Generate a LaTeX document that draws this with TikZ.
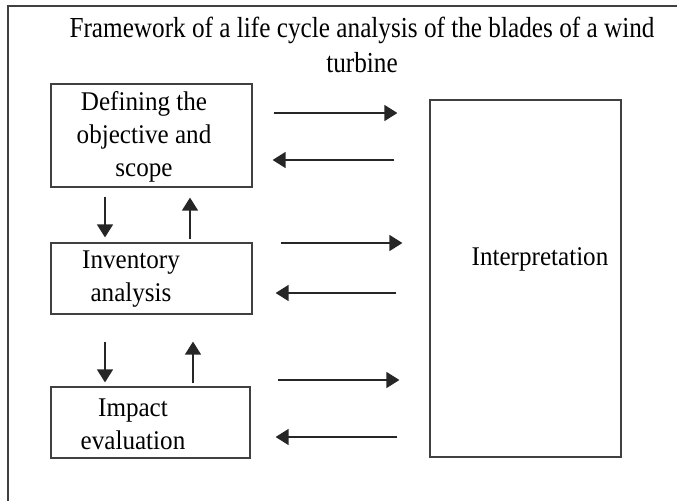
\documentclass[tikz,border=0pt]{standalone}
\usepackage{fontspec}
\setmainfont{Liberation Serif}[FakeStretch=0.93]
\newfontfamily\titlefont{Liberation Serif}[FakeStretch=0.87]
\usetikzlibrary{arrows.meta}

\tikzset{
	box/.style={draw=black!75, line width=1.2pt, inner sep=0pt},
	txt/.style={align=center, inner sep=0pt, font=\fontsize{27}{33}\selectfont},
	arr/.style={draw=black!85, line width=1.4pt, -{Triangle[length=13pt,width=16pt]}},
}

\begin{document}
\begin{tikzpicture}[x=1pt, y=-1pt]
			%%%%% START %%%%%
			\useasboundingbox (0,0) rectangle (677,501);
			
			\draw[black!75, line width=1.3pt] (677,6) -- (8,6) -- (8,501);
			
			\node[txt, font=\titlefont\fontsize{29}{35}\selectfont] (title) at (362,45) {Framework of a life cycle analysis of the blades of a wind\\turbine};
			
			\node[box, minimum width=201pt, minimum height=103pt] (b1) at (151.5,135.5) {};
			\node[box, minimum width=201pt, minimum height=71pt] (b2) at (151.5,278.5) {};
			\node[box, minimum width=199pt, minimum height=71pt] (b3) at (150.5,422.5) {};
			\node[box, minimum width=191pt, minimum height=357pt] (interp) at (525.5,278.5) {};
			
			\node[txt] (t1) at (144,137) {Defining the\\objective and\\scope};
			\node[txt] (t2) at (131,279) {Inventory\\analysis};
			\node[txt] (t3) at (133,424) {Impact\\evaluation};
			\node[txt] (t4) at (540,259) {Interpretation};
			
			\draw[arr, shorten <=21pt, shorten >=32pt] (b1.east |- 0,113) -- (interp.west |- 0,113);
			\draw[arr, shorten <=35pt, shorten >=20pt] (interp.west |- 0,160) -- (b1.east |- 0,160);
			
			\draw[arr, shorten <=28pt, shorten >=27pt] (b2.east |- 0,243) -- (interp.west |- 0,243);
			\draw[arr, shorten <=33pt, shorten >=23pt] (interp.west |- 0,293) -- (b2.east |- 0,293);
			
			\draw[arr, shorten <=27pt, shorten >=30pt] (b3.east |- 0,380) -- (interp.west |- 0,380);
			\draw[arr, shorten <=32pt, shorten >=25pt] (interp.west |- 0,437) -- (b3.east |- 0,437);
			
			\draw[arr, shorten <=9pt, shorten >=5pt] (b1.south -| 105,0) -- (b2.north -| 105,0);
			\draw[arr, shorten <=3pt, shorten >=10pt] (b2.north -| 190,0) -- (b1.south -| 190,0);
			
			\draw[arr, shorten <=27pt, shorten >=4pt] (b2.south -| 105,0) -- (b3.north -| 105,0);
			\draw[arr, shorten <=3pt, shorten >=27pt] (b3.north -| 193,0) -- (b2.south -| 193,0);
			
			%%%%% END %%%%%
\end{tikzpicture}
\end{document}
